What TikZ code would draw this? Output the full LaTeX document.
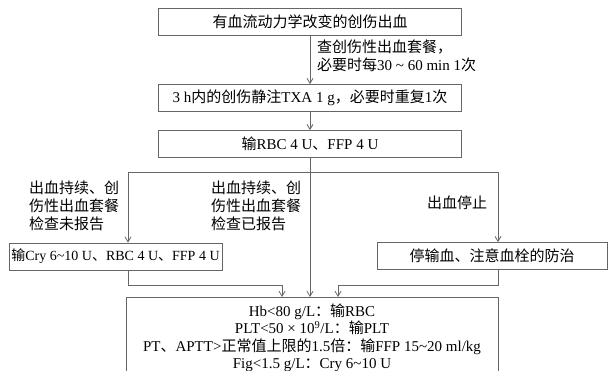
\documentclass[tikz,border=0pt]{standalone}
\usepackage{fontspec}
\setmainfont{Liberation Serif}
\newfontfamily\cjk{Noto Sans CJK SC}
\usetikzlibrary{arrows.meta}
\begin{document}
\begin{tikzpicture}[x=1pt,y=-1pt, font=\fontsize{15}{18}\selectfont,
 box/.style={draw=black!60, line width=0.8pt, inner sep=0pt, minimum height=27pt},
 lbl/.style={inner sep=0pt, align=left, anchor=west},
 conn/.style={draw=black!60, line width=0.8pt},
 arr/.style={conn, -{Straight Barb[length=5pt,width=6pt]}}]
\clip (0,0) rectangle (609,371);
\fill[white] (0,0) rectangle (609,371);
\node[box, minimum width=303pt] (b1) at (310,21.5) {{\cjk 有血流动力学改变的创伤出血}};
\node[box, minimum width=303pt] (b2) at (310,98) {3 h{\cjk 内的创伤静注}TXA 1 g{\cjk ，必要时重复}1{\cjk 次}};
\node[box, minimum width=303pt] (b3) at (310,144) {{\cjk 输}RBC 4 U{\cjk 、}FFP 4 U};
\node[box, minimum width=213pt, font=\fontsize{14}{17}\selectfont] (b4) at (115.5,256.5) {{\cjk 输}Cry 6\textasciitilde10 U{\cjk 、}RBC 4 U{\cjk 、}FFP 4 U};
\node[box, minimum width=230pt] (b5) at (492,256) {{\cjk 停输血、注意血栓的防治}};
\node[box, anchor=north, minimum width=372pt, inner ysep=6pt, align=center, font=\fontsize{15}{17.5}\selectfont] (b6) at (312,297)
 {Hb<80 g/L{\cjk ：输}RBC\\PLT<50 × 10\textsuperscript{9}/L{\cjk ：输}PLT\\PT{\cjk 、}APTT>{\cjk 正常值上限的}1.5{\cjk 倍：输}FFP 15\textasciitilde20 ml/kg\\Fig<1.5 g/L{\cjk ：}Cry 6\textasciitilde10 U\\[20pt]};
\node[lbl] (t1) at (317,56) {{\cjk 查创伤性出血套餐，}\\{\cjk 必要时每}30 \textasciitilde{} 60 min 1{\cjk 次}};
\node[lbl] (t2) at (29,206) {{\cjk 出血持续、创}\\{\cjk 伤性出血套餐}\\{\cjk 检查未报告}};
\node[lbl] (t3) at (211,206) {{\cjk 出血持续、创}\\{\cjk 伤性出血套餐}\\{\cjk 检查已报告}};
\node[lbl] (t4) at (427,203) {{\cjk 出血停止}};
\coordinate (sl) at (128,172);
\coordinate (sr) at (498,172);
\coordinate (lt) at (282,285);
\coordinate (rt) at (338,285);
\draw[arr] (b1) -- (b2);
\draw[arr] (b2) -- (b3);
\draw[arr] (b3.south) -- (b3.south |- b6.north);
\draw[conn] (sl) -- (sr);
\draw[arr] (sl) -- (sl |- b4.north);
\draw[arr] (sr) -- (sr |- b5.north);
\draw[arr] (sl |- b4.south) -- (sl |- lt) -- (lt) -- (lt |- b6.north);
\draw[arr] (sr |- b5.south) -- (sr |- rt) -- (rt) -- (rt |- b6.north);
\end{tikzpicture}
\end{document}
